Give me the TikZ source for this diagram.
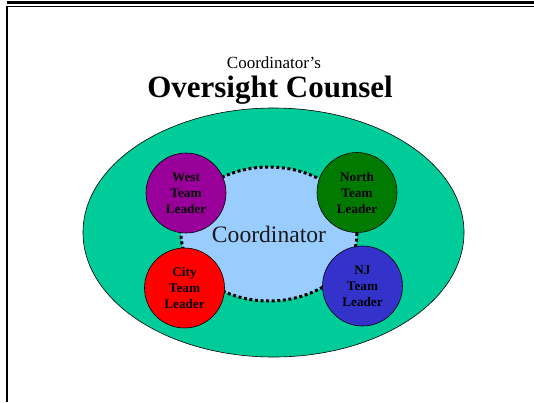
\documentclass[tikz,border=0pt]{standalone}
\usepackage{fontspec}
\setmainfont{Liberation Serif}
\usepackage{xcolor}
\usetikzlibrary{shapes.geometric}

\definecolor{counselgreen}{HTML}{00CC99}
\definecolor{coordblue}{HTML}{99CCFF}
\definecolor{westpurple}{HTML}{990099}
\definecolor{northgreen}{HTML}{007A00}
\definecolor{cityred}{HTML}{FF0000}
\definecolor{njblue}{HTML}{3333CC}

\tikzset{
	leader/.style={circle, draw, line width=0.6pt, minimum size=80pt, inner sep=0pt,
		align=center, font=\fontsize{13.2}{16}\selectfont\bfseries},
	dotline/.style={draw, line width=3pt, dash pattern=on 3pt off 2.6pt}
}

\begin{document}
\begin{tikzpicture}[x=1pt,y=-1pt]
	\useasboundingbox (0,0) rectangle (534,402);
	% frame
	\draw[line width=3pt] (7,2.5) -- (534,2.5);
	\draw[line width=1.3pt] (7,6.5) -- (534,6.5);
	\draw[line width=2pt] (7,6) -- (7,402);
	% titles
	\node[anchor=base, font=\fontsize{17}{20}\selectfont] (subtitle) at (274,68) {Coordinator’s};
	\node[anchor=base, font=\fontsize{31}{36}\selectfont\bfseries] (title) at (270,97) {Oversight Counsel};
	% ellipses
	\node[ellipse, draw, line width=0.6pt, fill=counselgreen, minimum width=381pt, minimum height=249pt] (counsel) at (273.5,232.5) {};
	\node[ellipse, dotline, fill=coordblue, minimum width=176pt, minimum height=134pt,
		font=\fontsize{23.6}{28}\selectfont, text=black!90] (coord) at (269,234) {Coordinator};
	% team leaders
	\node[leader, fill=westpurple] (west) at (186,193) {West\\Team\\Leader};
	\node[leader, fill=northgreen] (north) at (357,192.5) {North\\Team\\Leader};
	\node[leader, fill=cityred] (city) at (184.5,288) {City\\Team\\Leader};
	\node[leader, fill=njblue] (nj) at (362.5,286) {NJ\\Team\\Leader};
\end{tikzpicture}
\end{document}
